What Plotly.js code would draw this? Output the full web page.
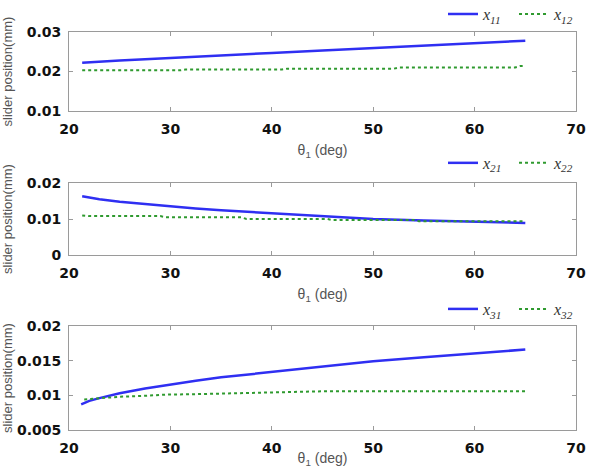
<!DOCTYPE html>
<html>
<head>
<meta charset="utf-8">
<script src="https://cdn.plot.ly/plotly-3.0.1.min.js"></script>
<style>html,body{margin:0;padding:0;background:#fff;}#chart{width:595px;height:468px;}</style>
</head>
<body>
<div id="chart"></div>
<script>
// ---- data ----
const theta11 = [21.3, 25, 30, 35, 40, 45, 50, 55, 60, 65];
const x11 = [0.0222, 0.0228, 0.0234, 0.0241, 0.0247, 0.0253, 0.0259, 0.0265, 0.0271, 0.0278];
const theta12 = [21.3, 31, 31.5, 41, 41.5, 52, 52.5, 64, 64.5, 65];
const x12 = [0.0203, 0.0203, 0.0205, 0.0205, 0.0207, 0.0207, 0.0210, 0.0210, 0.0214, 0.0214];

const theta21 = [21.3, 23, 25, 27.5, 30, 32.5, 35, 37.5, 40, 42.5, 45, 47.5, 50, 55, 60, 65];
const x21 = [0.0163, 0.0155, 0.0148, 0.0141, 0.0135, 0.0129, 0.0124, 0.0120, 0.0115, 0.0111, 0.0107, 0.0104, 0.0100, 0.0096, 0.0093, 0.0089];
const theta22 = [21.3, 22, 29, 29.5, 37, 37.5, 45.5, 46, 54, 54.5, 65];
const x22 = [0.0110, 0.0108, 0.0108, 0.0105, 0.0105, 0.0100, 0.0100, 0.0097, 0.0097, 0.0094, 0.0094];

const theta31 = [21.2, 22, 23, 24, 25, 27.5, 30, 32.5, 35, 37.5, 40, 45, 50, 55, 60, 65];
const x31 = [0.0087, 0.0092, 0.0096, 0.0100, 0.0103, 0.0110, 0.0116, 0.0121, 0.0126, 0.0130, 0.0134, 0.0142, 0.0149, 0.0155, 0.0161, 0.0166];
const theta32 = [21.5, 25, 27, 29.5, 33.5, 38.5, 45.5, 65];
const x32 = [0.0094, 0.0098, 0.0099, 0.0101, 0.0102, 0.0104, 0.0106, 0.0106];

const xTickVals = [20, 30, 40, 50, 60, 70];
const names = ['<i>x</i><sub><i>11</i></sub>', '<i>x</i><sub><i>12</i></sub>',
               '<i>x</i><sub><i>21</i></sub>', '<i>x</i><sub><i>22</i></sub>',
               '<i>x</i><sub><i>31</i></sub>', '<i>x</i><sub><i>32</i></sub>'];
const yTitle = 'slider position(mm)';
const xTitle = 'θ<sub>1</sub> (deg)';

// ---- styling ----
const blue = '#2f2ff2';
const green = '#2f9a2f';
const frame = '#9a9a9a';

function solid(x, y, name, xa, ya, lg) {
  return {x: x, y: y, name: name, xaxis: xa, yaxis: ya, legend: lg, type: 'scatter', mode: 'lines',
          line: {color: blue, width: 2.5}};
}
function dotted(x, y, name, xa, ya, lg) {
  return {x: x, y: y, name: name, xaxis: xa, yaxis: ya, legend: lg, type: 'scatter', mode: 'lines',
          line: {color: green, width: 2, dash: 'dot', shape: 'linear'}};
}

const data = [
  solid(theta11, x11, names[0], 'x', 'y', 'legend'),
  dotted(theta12, x12, names[1], 'x', 'y', 'legend'),
  solid(theta21, x21, names[2], 'x2', 'y2', 'legend2'),
  dotted(theta22, x22, names[3], 'x2', 'y2', 'legend2'),
  solid(theta31, x31, names[4], 'x3', 'y3', 'legend3'),
  dotted(theta32, x32, names[5], 'x3', 'y3', 'legend3')
];

const tickFont = {family: 'DejaVu Sans', size: 14, color: '#111', weight: 'bold'};
function xax(anchor) {
  return {anchor: anchor, range: [20, 70], tickvals: xTickVals, showgrid: false, zeroline: false,
          showline: true, linecolor: frame, linewidth: 1, mirror: 'ticks', ticks: 'inside', ticklen: 4,
          tickcolor: frame, tickfont: tickFont, ticklabelstandoff: 5,
          title: {text: xTitle, font: {family: 'Liberation Sans', size: 14, color: '#555'}, standoff: 9}};
}
function yax(anchor, domain, range, dtick, standoff) {
  return {anchor: anchor, domain: domain, range: range, dtick: dtick, tick0: 0, showgrid: false, zeroline: false,
          showline: true, linecolor: frame, linewidth: 1, mirror: 'ticks', ticks: 'inside', ticklen: 4,
          tickcolor: frame, tickfont: tickFont, ticklabelstandoff: 4,
          title: {text: yTitle, font: {family: 'Liberation Sans', size: 13, color: '#555'}, standoff: standoff}};
}
function leg(y) {
  return {orientation: 'h', x: 0.7377, xanchor: 'left', y: y, yanchor: 'middle',
          bgcolor: 'rgba(0,0,0,0)', font: {family: 'Liberation Serif', size: 16, color: '#333'},
          itemwidth: 30, tracegroupgap: 0, entrywidth: 26};
}

const layout = {
  width: 595, height: 468,
  margin: {l: 69, r: 19, t: 32, b: 38, autoexpand: false},
  paper_bgcolor: '#fff', plot_bgcolor: '#fff',
  showlegend: true,
  xaxis: xax('y'), xaxis2: xax('y2'), xaxis3: xax('y3'),
  yaxis: yax('x', [0.8015, 1], [0.01, 0.03], 0.01, 12),
  yaxis2: yax('x2', [0.4397, 0.6206], [0, 0.02], 0.01, 12),
  yaxis3: yax('x3', [0, 0.2613], [0.005, 0.02], 0.005, 4),
  legend: leg(1.045), legend2: leg(0.671), legend3: leg(0.304)
};

Plotly.newPlot('chart', data, layout, {displayModeBar: false, staticPlot: true});
</script>
</body>
</html>
